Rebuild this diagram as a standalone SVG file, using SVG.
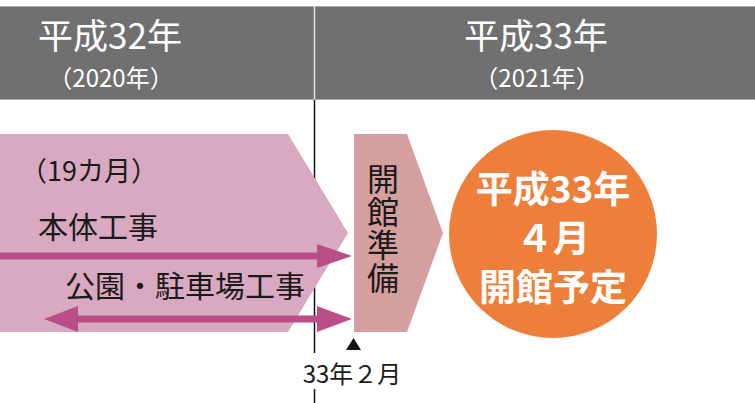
<svg xmlns="http://www.w3.org/2000/svg" width="755" height="403" viewBox="0 0 755 403">
<defs>
<style>
text{font-family:"Noto Sans CJK JP","Noto Sans",sans-serif;}
.hd{fill:#ffffff;text-anchor:middle;}
.blk{fill:#1a1a1a;}
.wb{fill:#ffffff;font-weight:bold;text-anchor:middle;}
.arr{stroke:#b94f86;stroke-width:7;fill:none;}
.ah{fill:#b94f86;}
.vt{writing-mode:vertical-rl;letter-spacing:1px;}
</style>
</defs>
<rect width="755" height="403" fill="#ffffff"/>
<g id="header">
<rect x="0" y="6" width="755" height="94" fill="#707070"/>
<line x1="0" y1="6.5" x2="755" y2="6.5" stroke="#a8a8a8" stroke-width="1"/>
<line x1="0" y1="99.5" x2="755" y2="99.5" stroke="#a8a8a8" stroke-width="1"/>
<line x1="314.5" y1="6" x2="314.5" y2="99" stroke="#e0e0e0" stroke-width="1.5"/>
<text class="hd" x="110" y="49" font-size="35">平成32年</text>
<text class="hd" x="111" y="87" font-size="24">（2020年）</text>
<text class="hd" x="536" y="49" font-size="35">平成33年</text>
<text class="hd" x="537" y="87" font-size="24">（2021年）</text>
</g>
<g id="divider">
<line x1="314.5" y1="100" x2="314.5" y2="353" stroke="#111" stroke-width="1.5"/>
<line x1="314.5" y1="389" x2="314.5" y2="403" stroke="#111" stroke-width="1.5"/>
</g>
<g id="construction">
<polygon points="0,134 288,134 348,233 288,332 0,332" fill="#d9a8c1"/>
<text class="blk" x="20" y="181" font-size="27">（19カ月）</text>
<text class="blk" x="38" y="238" font-size="30">本体工事</text>
<text class="blk" x="65" y="297" font-size="30">公園・駐車場工事</text>
</g>
<g id="preparation">
<polygon points="354,134 407,134 443,233 407,332 354,332" fill="#d59fa0"/>
<text class="blk vt" x="383" y="163" font-size="32">開館準備</text>
</g>
<g id="opening">
<circle cx="553" cy="234" r="104" fill="#ee7f3a"/>
<text class="wb" x="553" y="203" font-size="37">平成33年</text>
<text class="wb" x="553" y="252" font-size="37">４月</text>
<text class="wb" x="553" y="301" font-size="37">開館予定</text>
</g>
<g id="connectors">
<line class="arr" x1="0" y1="256" x2="320" y2="256"/>
<polygon class="ah" points="317,244 352,256 317,268"/>
<line class="arr" x1="75" y1="319" x2="320" y2="319"/>
<polygon class="ah" points="317,306 352,319 317,332"/>
<polygon class="ah" points="78,306 44,319 78,332"/>
</g>
<g id="milestone">
<polygon points="353.5,338 361,350 346,350" fill="#111"/>
<text class="blk" x="352" y="383" font-size="24" text-anchor="middle">33年２月</text>
</g>
</svg>
